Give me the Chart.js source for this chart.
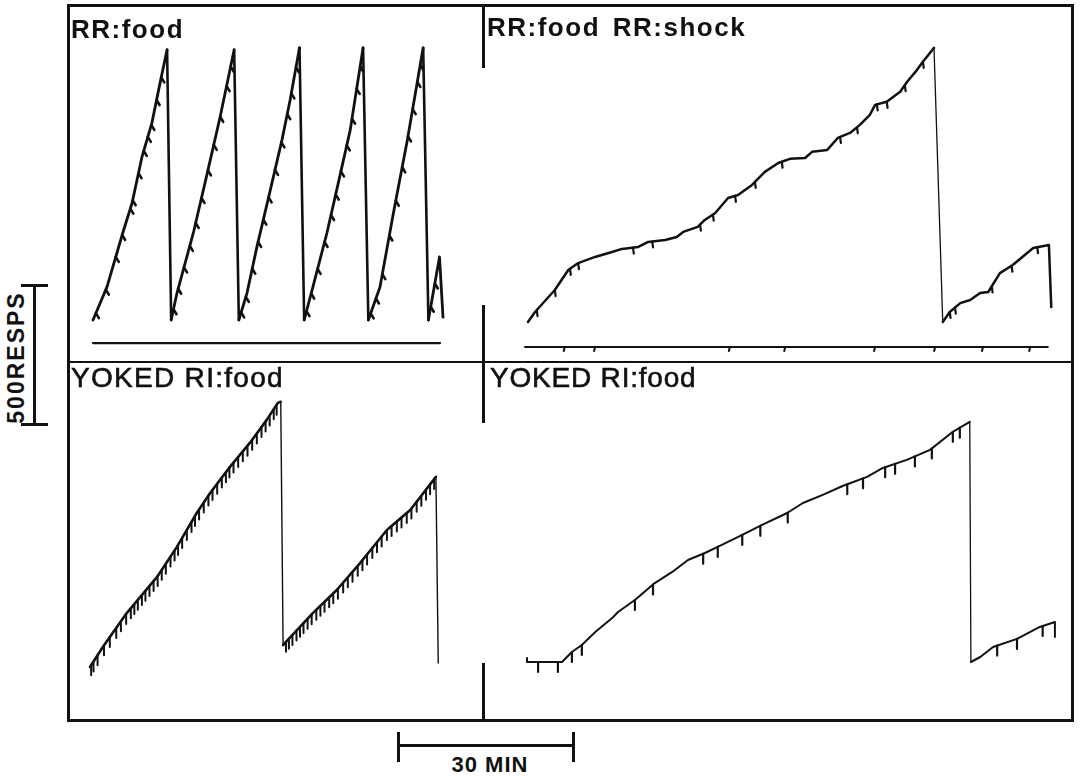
<!DOCTYPE html>
<html>
<head>
<meta charset="utf-8">
<title>Cumulative records: RR food / RR shock vs yoked RI food</title>
<script src="https://cdn.jsdelivr.net/npm/chart.js@4.4.1/dist/chart.umd.min.js"></script>
<style>
  html, body { margin: 0; padding: 0; background: #fff; }
  body { width: 1080px; height: 776px; position: relative; overflow: hidden;
         font-family: "Liberation Sans", Arial, sans-serif; color: #111; }
  .panel { position: absolute; }
  .panel canvas { display: block; }
  .rule { position: absolute; background: #111; }
  .label { position: absolute; white-space: nowrap; line-height: 1; }
  .bold { font-weight: bold; }
  .medium { -webkit-text-stroke: 0.6px #111; }
</style>
</head>
<body>

<!-- frame -->
<div class="rule" style="left:67px; top:4px; width:1007px; height:3px;"></div>
<div class="rule" style="left:67px; top:719px; width:1007px; height:3px;"></div>
<div class="rule" style="left:67px; top:4px; width:3px; height:718px;"></div>
<div class="rule" style="left:1071px; top:4px; width:3px; height:718px;"></div>
<div class="rule" style="left:67px; top:361px; width:1007px; height:2px;"></div>
<div class="rule" style="left:482px; top:4px; width:3px; height:64px;"></div>
<div class="rule" style="left:482px; top:305px; width:3px; height:118px;"></div>
<div class="rule" style="left:482px; top:663px; width:3px; height:58px;"></div>

<div class="panel" id="tl"><canvas></canvas></div>
<div class="panel" id="tr"><canvas></canvas></div>
<div class="panel" id="bl"><canvas></canvas></div>
<div class="panel" id="br"><canvas></canvas></div>

<div class="label bold" style="left:71px; top:16px; font-size:26px; letter-spacing:1.5px;">RR:food</div>
<div class="label bold" style="left:487px; top:14px; font-size:26px; letter-spacing:1.5px; word-spacing:4px;">RR:food RR:shock</div>
<div class="label medium" style="left:71px; top:364px; font-size:28px; letter-spacing:1.3px;">YOKED RI:food</div>
<div class="label medium" style="left:490px; top:364px; font-size:28px; letter-spacing:0.8px;">YOKED RI:food</div>

<!-- 500 responses scale bar -->
<div class="rule" style="left:33px; top:285px; width:3px; height:140px;"></div>
<div class="rule" style="left:21px; top:284px; width:27px; height:3px;"></div>
<div class="rule" style="left:21px; top:423px; width:27px; height:3px;"></div>
<div class="label bold" style="left:-54px; top:346px; width:140px; text-align:center; font-size:23px; letter-spacing:2px; transform:rotate(-90deg);">500RESPS</div>

<!-- 30 min scale bar -->
<div class="rule" style="left:398px; top:744px; width:176px; height:3px;"></div>
<div class="rule" style="left:397px; top:732px; width:3px; height:30px;"></div>
<div class="rule" style="left:572px; top:732px; width:3px; height:30px;"></div>
<div class="label bold" style="left:440px; top:754px; width:100px; text-align:center; font-size:22px; letter-spacing:1px;">30 MIN</div>

<script>
// cumulative records: [minutes, pen position in responses]; pen resets after a full excursion
const RR_FOOD_REC = [
  [0, 0], [2.4, 119], [5.1, 313], [6.7, 421], [8.4, 587], [10.1, 709], [11.5, 853], [12.7, 972],
  [13.4, 0], [14.4, 97], [17.2, 313], [19.6, 529], [21.8, 731], [24.2, 972],
  [25.0, 0], [26.4, 97], [28.1, 263], [30.0, 432], [32.4, 648], [33.8, 792], [35.4, 979],
  [36.2, 0], [37.7, 119], [40.1, 313], [41.9, 479], [44.1, 684], [46.3, 979],
  [47.2, 0], [49.2, 119], [51.5, 385], [53.9, 648], [56.6, 979],
  [57.5, 0], [59.4, 227], [60.0, 10]
];
const RR_FOOD_PIPS = [
  0.5, 2.2, 3.9, 5.0, 6.4, 6.8, 7.8, 8.7, 9.4, 10.0, 10.9, 11.7,
  13.8, 14.6, 15.6, 16.6, 17.6, 18.6, 19.7, 20.7, 21.8, 22.9, 23.6,
  25.4, 26.2, 27.3, 28.3, 29.2, 30.1, 31.2, 32.3, 33.3, 34.0, 34.8,
  36.6, 37.4, 38.5, 39.7, 40.8, 41.6, 42.5, 43.5, 44.4, 45.2, 45.8,
  47.6, 48.5, 49.6, 50.8, 51.9, 53.0, 54.0, 54.8, 55.6, 56.1,
  57.9, 58.6
];
const RR_FOOD_EVENT = [[0, -83], [59.5, -83]];

const RR_SHOCK_REC = [
  [0, 0], [1.2, 36], [4.6, 115], [6.9, 187], [8.6, 212], [11.5, 234], [14.4, 252], [16.1, 263],
  [18.9, 270], [20.6, 288], [23.5, 295], [25.5, 306], [26.6, 324], [29.1, 342], [30.3, 367],
  [32.1, 392], [34.3, 446], [36.0, 457], [38.4, 493], [40.6, 540], [42.9, 572], [44.9, 587],
  [47.5, 590], [48.7, 612], [51.3, 619], [53.1, 662], [55.2, 680], [56.9, 709], [58.6, 745],
  [59.5, 781], [61.5, 792], [63.8, 828], [65.0, 864], [66.7, 907], [67.7, 936], [69.6, 986],
  [71.1, 0], [72.3, 36], [74.1, 68], [75.8, 79], [77.5, 104], [78.9, 108], [80.9, 176],
  [83.1, 205], [86.6, 266], [89.3, 277], [89.7, 54]
];
const RR_SHOCK_PIPS = [
  1.5, 4.6, 7.2, 8.6, 18.0, 21.3, 29.5, 31.7, 35.5, 38.9, 43.5, 53.5, 56.4, 59.8, 61.5,
  64.6, 67.7, 72.3, 73.2, 79.5, 82.9, 87.3
];
const RR_SHOCK_EVENT = [[-0.5, -90], [89.1, -90]];
const SHOCK_MARKS = [6.3, 11.5, 34.6, 44.1, 59.5, 69.8, 78.0, 86.1];

const YOKED_L_REC = [
  [0, 0], [2.2, 72], [6.3, 194], [11.5, 324], [14.9, 432], [18.3, 554], [20.6, 626], [24.0, 720],
  [27.4, 806], [30.3, 889], [32.2, 950], [32.7, 954],
  [33.1, 79], [33.4, 86], [38.2, 194], [42.3, 277], [46.3, 374], [50.9, 493], [54.9, 565],
  [59.3, 684], [59.7, 14]
];
const YOKED_L_PIPS = [
  0.2, 0.6, 1.3, 2.4, 3.4, 4.5, 5.3, 6.2, 7.0, 7.6, 8.2, 8.9, 9.5, 10.2, 10.9, 11.6, 12.3,
  13.0, 13.8, 14.5, 15.1, 15.8, 16.6, 17.4, 18.0, 18.7, 19.5, 20.3, 21.0, 21.8, 22.6, 23.3,
  23.9, 24.6, 25.4, 26.2, 27.0, 27.8, 28.6, 29.4, 30.1, 30.8, 31.5, 32.0,
  33.6, 34.1, 34.7, 35.4, 36.0, 36.6, 37.3, 38.0, 38.8, 39.5, 40.2, 41.0, 41.7, 42.5, 43.4,
  44.2, 45.0, 45.9, 46.7, 47.5, 48.4, 49.2, 50.0, 50.9, 51.7, 52.6, 53.4, 54.3, 55.1, 56.0,
  56.8, 57.6, 58.3, 59.0
];

const YOKED_R_REC = [
  [0, 14], [0, 0], [6.0, 0], [7.7, 36], [9.4, 61], [11.7, 108], [14.6, 158], [15.6, 180],
  [18.5, 223], [21.9, 284], [24.9, 324], [27.6, 367], [30.5, 392], [33.4, 421], [36.9, 457],
  [40.3, 493], [44.6, 536], [47.3, 572], [50.7, 601], [54.2, 634], [58.3, 666], [61.0, 698],
  [65.1, 727], [69.1, 763], [73.0, 828], [75.9, 864],
  [76.1, 0], [77.7, 18], [79.9, 54], [84.0, 83], [87.9, 126], [90.5, 144], [90.5, 90]
];
const YOKED_R_PIPS = [
  1.9, 5.3, 7.7, 9.4, 18.5, 21.6, 30.2, 32.7, 36.9, 40.0, 44.7, 54.9, 57.6, 61.4, 63.1,
  66.5, 69.4, 73.0, 74.2, 80.6, 84.0, 88.4
];

// recorder scale: 30 min and 500 responses, as the scale bars show
const PX_PER_MIN = 175 / 30;
const PX_PER_RESP = 139 / 500;

// pen position at time t, read along the drawn record
function penAt(points, t) {
  for (let i = 0; i < points.length - 1; i++) {
    const a = points[i], b = points[i + 1];
    if (t >= a.x && t <= b.x) {
      if (b.x === a.x) return a.y;
      return a.y + (b.y - a.y) * (t - a.x) / (b.x - a.x);
    }
  }
  return points[points.length - 1].y;
}

// pip marks hanging off a record
const pipPlugin = {
  id: 'pips',
  afterDatasetsDraw(chart, args, opts) {
    const { ctx } = chart;
    const xs = chart.scales.x, ys = chart.scales.y;
    (opts.sets || []).forEach(set => {
      const pts = chart.data.datasets[set.ds].data;
      ctx.save();
      ctx.strokeStyle = '#111';
      ctx.lineWidth = set.width;
      ctx.lineCap = 'round';
      set.times.forEach(t => {
        const px = xs.getPixelForValue(t);
        const py = ys.getPixelForValue(penAt(pts, t));
        ctx.beginPath();
        ctx.moveTo(px, py);
        ctx.lineTo(px + set.dx, py + set.dy);
        ctx.stroke();
      });
      ctx.restore();
    });
  }
};

function toPoints(rec) {
  return rec.map(p => ({ x: p[0], y: p[1] }));
}

function record(rec, width, resetWidth) {
  return {
    data: toPoints(rec),
    showLine: true,
    borderColor: '#111',
    borderWidth: width,
    borderJoinStyle: 'round',
    borderCapStyle: 'round',
    pointRadius: 0,
    tension: 0,
    clip: false,
    segment: {
      borderWidth: c => (c.p0.parsed.y - c.p1.parsed.y > 300 ? resetWidth : undefined)
    }
  };
}

// box = [left, top, width, height] on the page, origin = page pixel of t=0, n=0
function makePanel(id, box, origin, datasets, pipSets) {
  const holder = document.getElementById(id);
  holder.style.left = box[0] + 'px';
  holder.style.top = box[1] + 'px';
  holder.style.width = box[2] + 'px';
  holder.style.height = box[3] + 'px';

  return new Chart(holder.querySelector('canvas'), {
    type: 'scatter',
    data: { datasets: datasets },
    options: {
      responsive: true,
      maintainAspectRatio: false,
      animation: false,
      devicePixelRatio: 1,
      layout: { padding: 0 },
      plugins: {
        legend: { display: false },
        tooltip: { enabled: false },
        pips: { sets: pipSets }
      },
      scales: {
        x: {
          type: 'linear', display: false,
          min: (box[0] - origin[0]) / PX_PER_MIN,
          max: (box[0] + box[2] - origin[0]) / PX_PER_MIN
        },
        y: {
          type: 'linear', display: false,
          min: -(box[1] + box[3] - origin[1]) / PX_PER_RESP,
          max: (origin[1] - box[1]) / PX_PER_RESP
        }
      }
    },
    plugins: [pipPlugin]
  });
}

makePanel('tl', [70, 7, 412, 354], [93, 320],
  [record(RR_FOOD_REC, 2.8, 2.6), record(RR_FOOD_EVENT, 2.2, 2.2)],
  [{ ds: 0, times: RR_FOOD_PIPS, dx: 3, dy: 5, width: 2.6 }]);

makePanel('tr', [485, 7, 586, 354], [528, 322],
  [record(RR_SHOCK_REC, 2.5, 1.3), record(RR_SHOCK_EVENT, 2.2, 2.2)],
  [{ ds: 0, times: RR_SHOCK_PIPS, dx: 0.8, dy: 6, width: 2.2 },
   { ds: 1, times: SHOCK_MARKS, dx: -1, dy: 4, width: 2 }]);

makePanel('bl', [70, 363, 412, 356], [90, 667],
  [record(YOKED_L_REC, 2.6, 1.4)],
  [{ ds: 0, times: YOKED_L_PIPS, dx: 0, dy: 10, width: 2 }]);

makePanel('br', [485, 363, 586, 356], [527, 662],
  [record(YOKED_R_REC, 2, 1.3)],
  [{ ds: 0, times: YOKED_R_PIPS, dx: 0, dy: 10, width: 2.2 }]);
</script>
</body>
</html>
